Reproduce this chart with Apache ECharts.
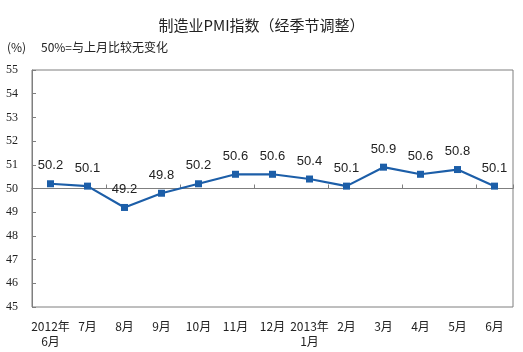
<!DOCTYPE html>
<html>
<head>
<meta charset="utf-8">
<script src="https://cdn.jsdelivr.net/npm/echarts@6/dist/echarts.min.js"></script>
<style>
html, body { margin: 0; padding: 0; background: #fff; }
#main { width: 523px; height: 352px; }
</style>
</head>
<body>
<div id="main"></div>
<script>
var months = ['2012年\n6月', '7月', '8月', '9月', '10月', '11月', '12月', '2013年\n1月', '2月', '3月', '4月', '5月', '6月']
var pmi = [50.2, 50.1, 49.2, 49.8, 50.2, 50.6, 50.6, 50.4, 50.1, 50.9, 50.6, 50.8, 50.1]
var yMin = 45
var yMax = 55

var cjk = '"Noto Sans CJK SC", sans-serif'
var gray = '#7f7f7f'

var option = {
    animation: false,
    title: {
        text: '制造业PMI指数（经季节调整）',
        left: 'center',
        top: 13,
        textStyle: {
            fontFamily: cjk,
            fontSize: 15,
            fontWeight: 'normal',
            color: '#222'
        }
    },
    graphic: [
        {
            type: 'text', left: 7, top: 41,
            style: { text: '(%)', font: '12px ' + cjk, fill: '#222' }
        },
        {
            type: 'text', left: 41, top: 41,
            style: { text: '50%=与上月比较无变化', font: '12px ' + cjk, fill: '#222' }
        }
    ],
    grid: {
        left: 32,
        right: 10,
        top: 70,
        bottom: 45,
        show: true,
        borderColor: gray,
        borderWidth: 1
    },
    xAxis: [
        {
            type: 'category',
            data: months,
            axisLine: { show: false },
            axisTick: { show: false },
            axisLabel: {
                interval: 0,
                margin: 12,
                fontFamily: cjk,
                fontSize: 12,
                lineHeight: 15,
                color: '#222'
            }
        },
        {
            type: 'category',
            data: months,
            position: 'bottom',
            offset: -118.5,
            axisLine: { show: true, onZero: false, lineStyle: { color: gray, width: 1 } },
            axisTick: { show: true, inside: true, length: 4, lineStyle: { color: gray } },
            axisLabel: { show: false }
        }
    ],
    yAxis: {
        type: 'value',
        min: yMin,
        max: yMax,
        interval: 1,
        splitLine: { show: false },
        axisLine: { show: true, lineStyle: { color: gray } },
        axisTick: { show: true, inside: true, length: 4, lineStyle: { color: gray } },
        axisLabel: {
            margin: 14,
            fontFamily: '"Liberation Serif", serif',
            fontSize: 12,
            color: '#222'
        }
    },
    series: [
        {
            name: 'PMI',
            type: 'line',
            xAxisIndex: 0,
            data: pmi,
            symbol: 'rect',
            symbolSize: 7,
            itemStyle: { color: '#1c5ea8' },
            lineStyle: { color: '#1c5ea8', width: 2.2 },
            label: {
                show: true,
                position: 'top',
                distance: 8,
                fontFamily: '"Liberation Sans", Arial, sans-serif',
                fontSize: 13,
                color: '#222',
                formatter: function (p) { return p.value.toFixed(1) }
            }
        }
    ]
}

var myChart = echarts.init(document.getElementById('main'))
myChart.setOption(option)
</script>
</body>
</html>
